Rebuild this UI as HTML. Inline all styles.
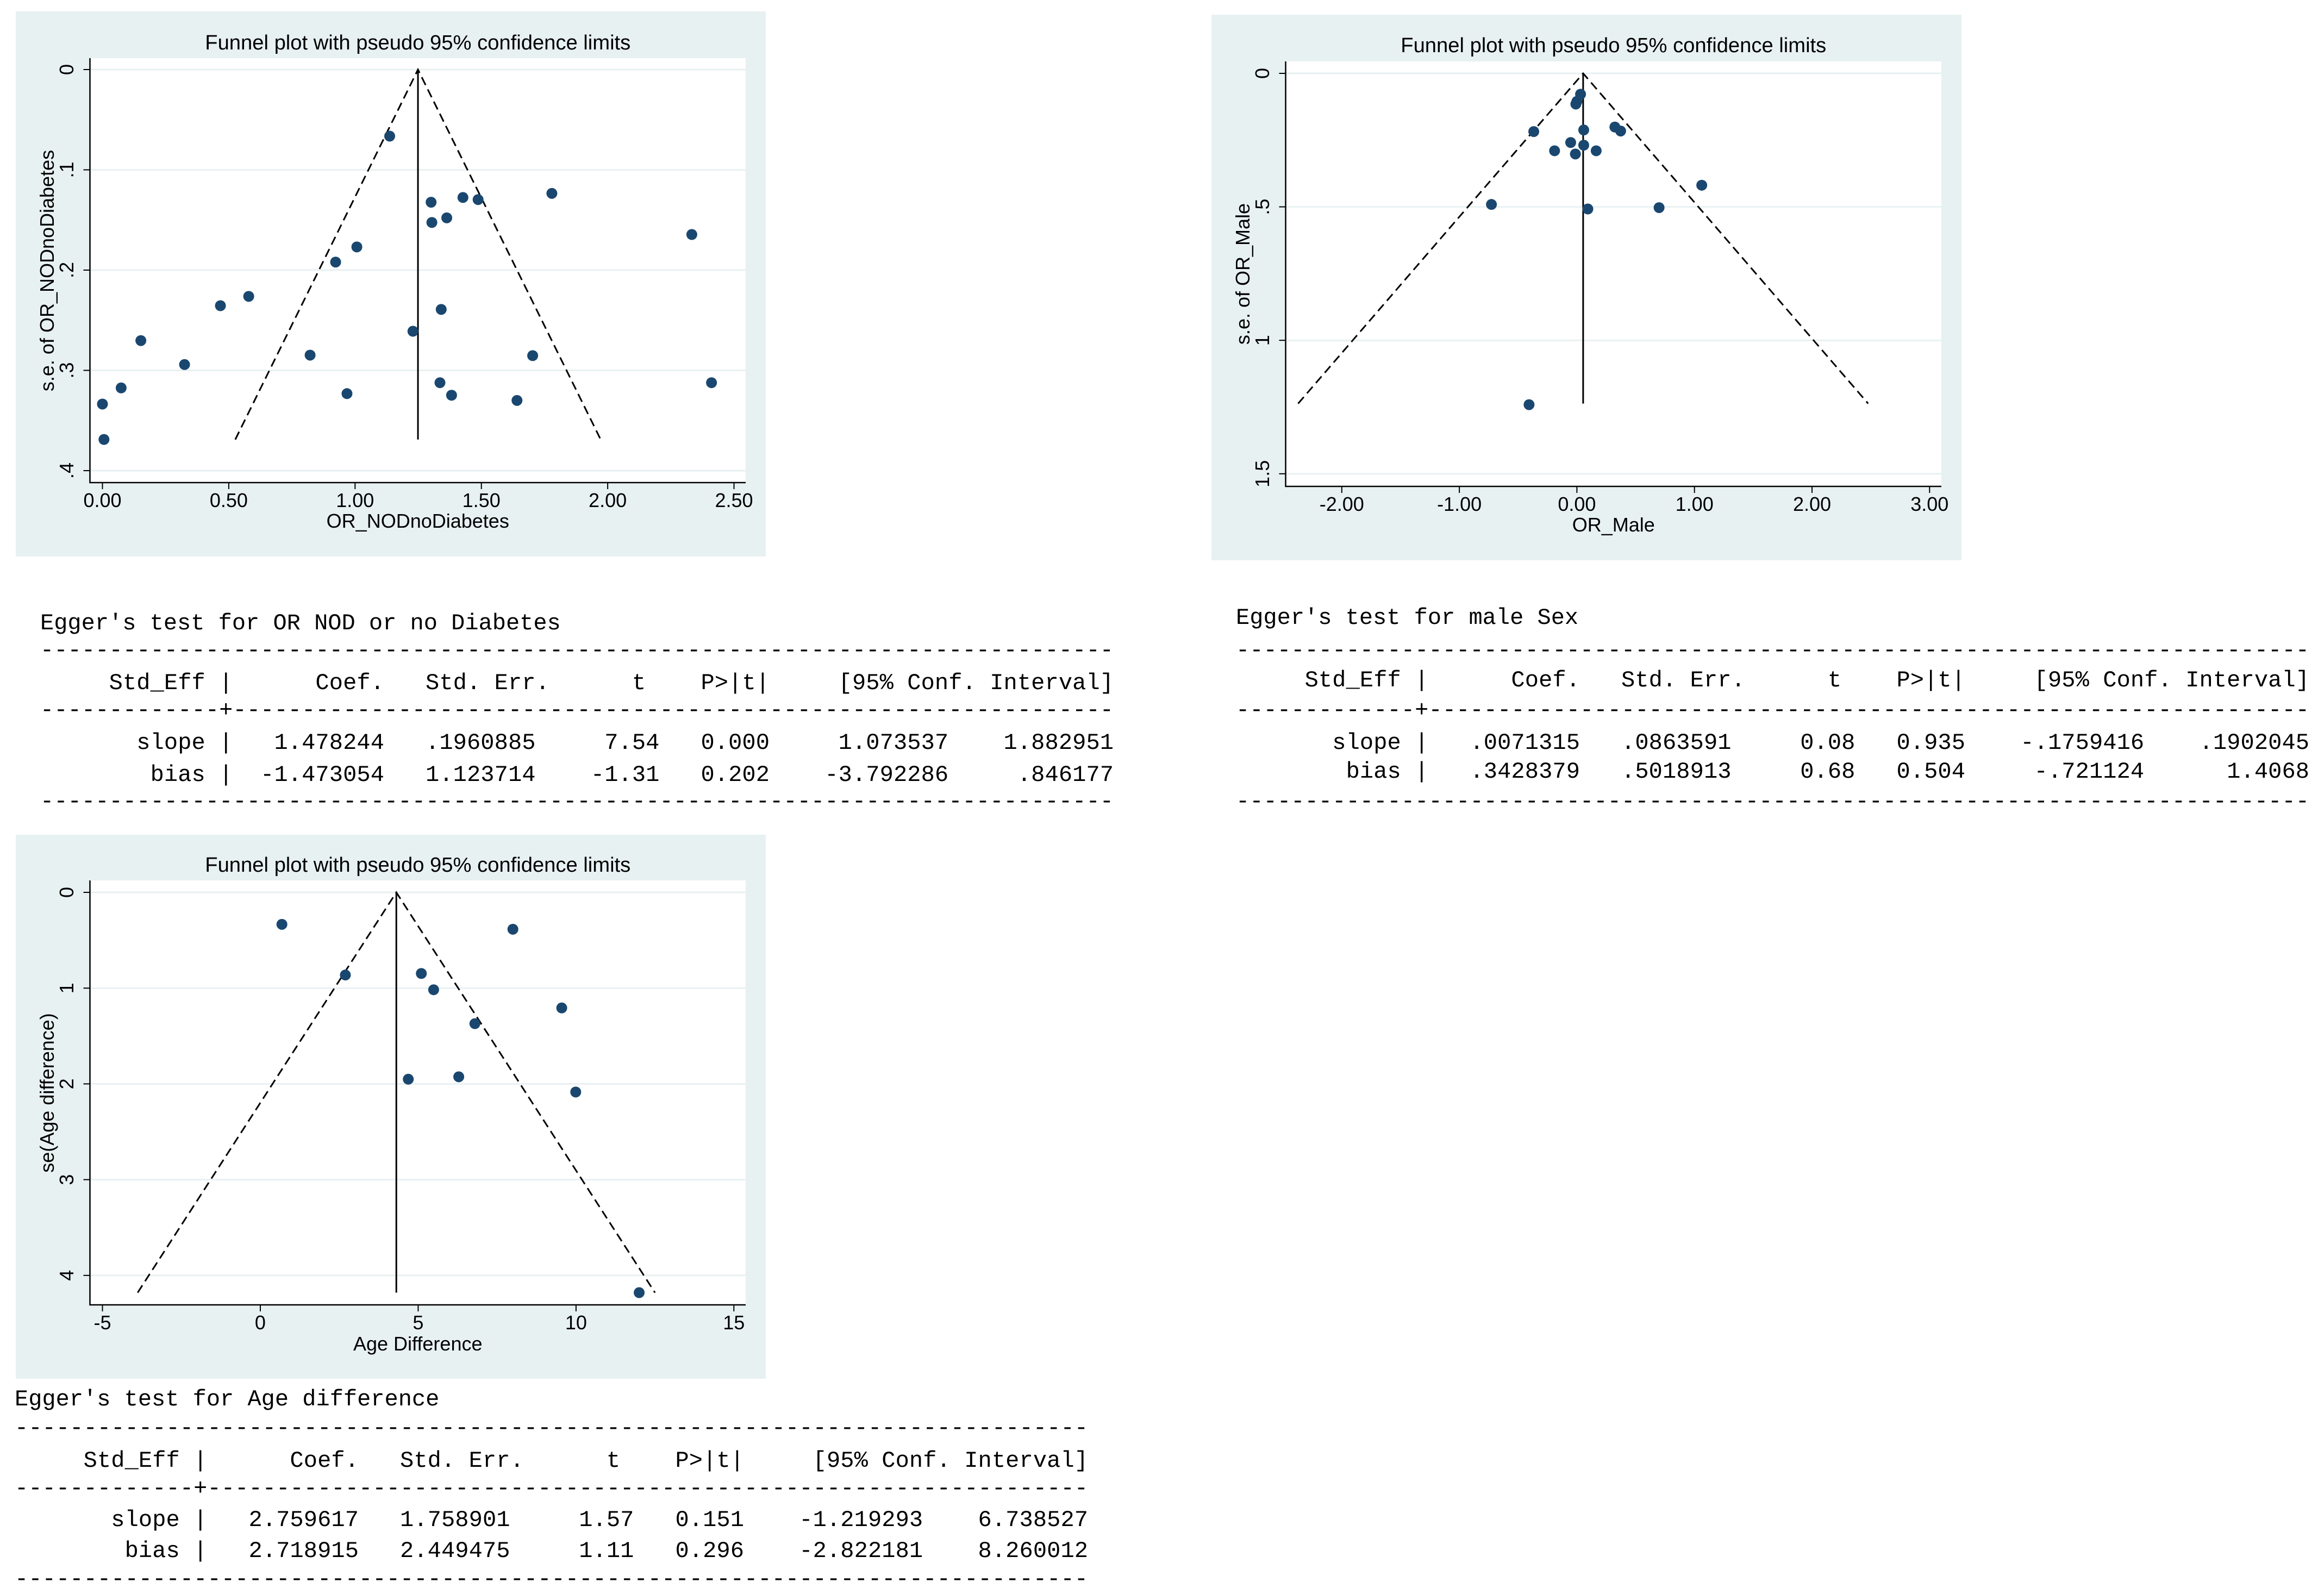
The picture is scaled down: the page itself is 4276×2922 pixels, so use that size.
<!DOCTYPE html>
<html><head><meta charset="utf-8"><style>
html,body{margin:0;padding:0;background:#fff;}
svg{display:block;}
.t{font-family:"Liberation Sans",Arial,sans-serif;fill:#000;}
.m{font-family:"Liberation Mono","DejaVu Sans Mono",monospace;font-size:42px;fill:#000;white-space:pre;}
</style></head><body>
<svg id="root" xmlns="http://www.w3.org/2000/svg" width="4276" height="2922" viewBox="0 0 4276 2922"></svg>
<script>
// ---- Panel 1 data: OR_NODnoDiabetes ----
const p1X = [1.137,1.301,1.304,1.363,1.427,1.487,1.779,2.333,1.007,0.923,0.579,0.467,0.152,0.325,0.822,1.229,1.341,1.703,0.968,1.336,1.382,1.641,2.411,0.074,0.0,0.006];
const p1SE = [0.0664,0.1323,0.1525,0.1479,0.1276,0.1297,0.1235,0.1645,0.1769,0.1920,0.2262,0.2355,0.2703,0.2942,0.2848,0.2610,0.2392,0.2853,0.3232,0.3123,0.3248,0.3300,0.3123,0.3175,0.3336,0.3689];
const p1XTicks = [0,0.5,1,1.5,2,2.5];
const p1XLabels = ["0.00","0.50","1.00","1.50","2.00","2.50"];
const p1YTicks = [0,0.1,0.2,0.3,0.4];
const p1YLabels = ["0",".1",".2",".3",".4"];
const p1Center = 1.249, p1MaxSE = 0.369;
// ---- Panel 2 data: OR_Male ----
const p2X = [0.031,0.0,-0.009,-0.367,0.058,0.323,0.372,-0.053,0.058,-0.190,-0.013,0.164,1.062,-0.727,0.093,0.699,-0.407];
const p2SE = [0.078,0.105,0.115,0.218,0.212,0.201,0.216,0.259,0.269,0.290,0.302,0.290,0.419,0.491,0.508,0.503,1.241];
const p2XTicks = [-2,-1,0,1,2,3];
const p2XLabels = ["-2.00","-1.00","0.00","1.00","2.00","3.00"];
const p2YTicks = [0,0.5,1,1.5];
const p2YLabels = ["0",".5","1","1.5"];
const p2Center = 0.053, p2MaxSE = 1.237;
// ---- Panel 3 data: Age difference ----
const p3X = [0.684,2.694,5.10,5.49,8.0,9.547,6.796,4.687,6.285,9.99,12.0];
const p3SE = [0.334,0.863,0.847,1.017,0.385,1.207,1.371,1.951,1.926,2.085,4.18];
const p3XTicks = [-5,0,5,10,15];
const p3XLabels = ["-5","0","5","10","15"];
const p3YTicks = [0,1,2,3,4];
const p3YLabels = ["0","1","2","3","4"];
const p3Center = 4.308, p3MaxSE = 4.18;

const NS = "http://www.w3.org/2000/svg";
const root = document.getElementById('root');
function mk(tag, attrs, parent){
  const e = document.createElementNS(NS, tag);
  for (const k in attrs) e.setAttribute(k, attrs[k]);
  (parent||root).appendChild(e);
  return e;
}

function funnel(cfg){
  const g = mk('g', {});
  
  
  const xs = v => cfg.xa + (v - cfg.xv0) * cfg.xk;
  const ys = s => cfg.ya + s * cfg.yk;
  const bg = mk('rect', {x:cfg.bg[0], y:cfg.bg[1], width:cfg.bg[2], height:cfg.bg[3], fill:'#e8f1f2'}, g);
  
  
  const pa = mk('rect', {x:cfg.px0, y:cfg.pTop, width:cfg.px1-cfg.px0, height:cfg.pBot-cfg.pTop, fill:'#ffffff'}, g);
  
  
  const ti = mk('text', {x:(cfg.px0+cfg.px1)/2, y:cfg.titleY, 'text-anchor':'middle', 'font-size':38, textLength:783, lengthAdjust:'spacingAndGlyphs', class:'t'}, g);
  ti.textContent = 'Funnel plot with pseudo 95% confidence limits';
  
  
  cfg.yTicks.forEach((t,i) => {
    const y = ys(t);
    const gl = mk('line', {x1:cfg.px0, x2:cfg.px1, y1:y, y2:y, stroke:'#e8f1f2', 'stroke-width':3}, g);
    
    
    const tk = mk('line', {x1:cfg.px0-12, x2:cfg.px0, y1:y, y2:y, stroke:'#000', 'stroke-width':2}, g);
    
    
    const lb = mk('text', {x:cfg.yLabX, y:y, 'text-anchor':'middle', 'font-size':36, class:'t', transform:`rotate(-90 ${cfg.yLabX} ${y})`}, g);
    lb.textContent = cfg.yLabels[i];
    
    
  });
  cfg.xTicks.forEach((t,i) => {
    const x = xs(t);
    const tk = mk('line', {x1:x, x2:x, y1:cfg.pBot, y2:cfg.pBot+12, stroke:'#000', 'stroke-width':2}, g);
    
    
    const lb = mk('text', {x:x, y:cfg.xLabY, 'text-anchor':'middle', 'font-size':36, class:'t'}, g);
    lb.textContent = cfg.xLabels[i];
    
    
  });
  const ax = mk('path', {d:`M${cfg.px0},${cfg.pTop} V${cfg.pBot} H${cfg.px1}`, fill:'none', stroke:'#000', 'stroke-width':2.5}, g);
  
  
  const xt = mk('text', {x:(cfg.px0+cfg.px1)/2, y:cfg.xTitleY, 'text-anchor':'middle', 'font-size':36, class:'t'}, g);
  xt.textContent = cfg.xTitle;
  
  
  const yt = mk('text', {x:cfg.yTitleX, y:cfg.yTitleY, 'text-anchor':'middle', 'font-size':36, class:'t', transform:`rotate(-90 ${cfg.yTitleX} ${cfg.yTitleY})`}, g);
  yt.textContent = cfg.yTitle;
  
  
  const cx = xs(cfg.center), y0 = ys(0), yb = ys(cfg.maxSE);
  const lo = xs(cfg.center - 1.96*cfg.maxSE), hi = xs(cfg.center + 1.96*cfg.maxSE);
  const fl = mk('path', {d:`M${lo},${yb} L${cx},${y0} L${hi},${yb}`, fill:'none', stroke:'#000', 'stroke-width':3, 'stroke-dasharray':'16 9'}, g);
  
  
  const vl = mk('line', {x1:cx, x2:cx, y1:y0, y2:yb, stroke:'#000', 'stroke-width':3}, g);
  
  
  cfg.x.forEach((v,i) => {
    const c = mk('circle', {cx:xs(v), cy:ys(cfg.se[i]), r:10, fill:'#1a476f'}, g);
    
    
  });
}

funnel({name:'funnel-plot-nod', bg:[29,21,1380,1003], px0:165.5, px1:1372, pTop:107, pBot:888,
  xa:188.5, xv0:0, xk:464.8, ya:128, yk:1845, titleY:91, xLabY:933, xTitleY:971, yLabX:135, yTitleX:99, yTitleY:498,
  xTicks:p1XTicks, xLabels:p1XLabels, yTicks:p1YTicks, yLabels:p1YLabels, center:p1Center, maxSE:p1MaxSE,
  x:p1X, se:p1SE, xTitle:'OR_NODnoDiabetes', yTitle:'s.e. of OR_NODnoDiabetes'});
funnel({name:'funnel-plot-male', bg:[2229,27,1380,1004], px0:2365.5, px1:3572, pTop:113, pBot:895,
  xa:2901.4, xv0:0, xk:216.3, ya:135, yk:491.2, titleY:96, xLabY:940, xTitleY:978, yLabX:2335, yTitleX:2299, yTitleY:504,
  xTicks:p2XTicks, xLabels:p2XLabels, yTicks:p2YTicks, yLabels:p2YLabels, center:p2Center, maxSE:p2MaxSE,
  x:p2X, se:p2SE, xTitle:'OR_Male', yTitle:'s.e. of OR_Male'});
funnel({name:'funnel-plot-age', bg:[29,1536,1380,1001], px0:165.5, px1:1372, pTop:1620, pBot:2401,
  xa:188.5, xv0:-5, xk:58.09, ya:1642, yk:176.2, titleY:1604, xLabY:2446, xTitleY:2485, yLabX:135, yTitleX:99, yTitleY:2011,
  xTicks:p3XTicks, xLabels:p3XLabels, yTicks:p3YTicks, yLabels:p3YLabels, center:p3Center, maxSE:p3MaxSE,
  x:p3X, se:p3SE, xTitle:'Age Difference', yTitle:'se(Age difference)'});

const dash = '-'.repeat(78);
const sep = '-'.repeat(13) + '+' + '-'.repeat(64);
const hdr = '     Std_Eff |      Coef.   Std. Err.      t    P>|t|     [95% Conf. Interval]';
function table(name, x, ys, title, r1, r2){
  const g = mk('g', {});
  
  
  const lines = [title, dash, hdr, sep, r1, r2, dash];
  const names = ['table-title','rule-top','table-header','rule-header','row-slope','row-bias','rule-bottom'];
  lines.forEach((s,i) => {
    const a = {x:x, y:ys[i], class:'m', 'xml:space':'preserve'};
    if (i>0) { a.textLength = 1975; a.lengthAdjust = 'spacing'; }
    const t = mk('text', a, g);
    t.textContent = s;
    
    
  });
}
table('egger-table-nod', 74, [1158,1208,1268,1318,1378,1437,1486], "Egger's test for OR NOD or no Diabetes",
  '       slope |   1.478244   .1960885     7.54   0.000     1.073537    1.882951',
  '        bias |  -1.473054   1.123714    -1.31   0.202    -3.792286     .846177');
table('egger-table-male', 2274, [1148,1208,1263,1318,1378,1431,1486], "Egger's test for male Sex",
  '       slope |   .0071315   .0863591     0.08   0.935    -.1759416    .1902045',
  '        bias |   .3428379   .5018913     0.68   0.504     -.721124      1.4068');
table('egger-table-age', 27, [2586,2639,2699,2750,2808,2865,2917], "Egger's test for Age difference",
  '       slope |   2.759617   1.758901     1.57   0.151    -1.219293    6.738527',
  '        bias |   2.718915   2.449475     1.11   0.296    -2.822181    8.260012');
</script>
</body></html>
